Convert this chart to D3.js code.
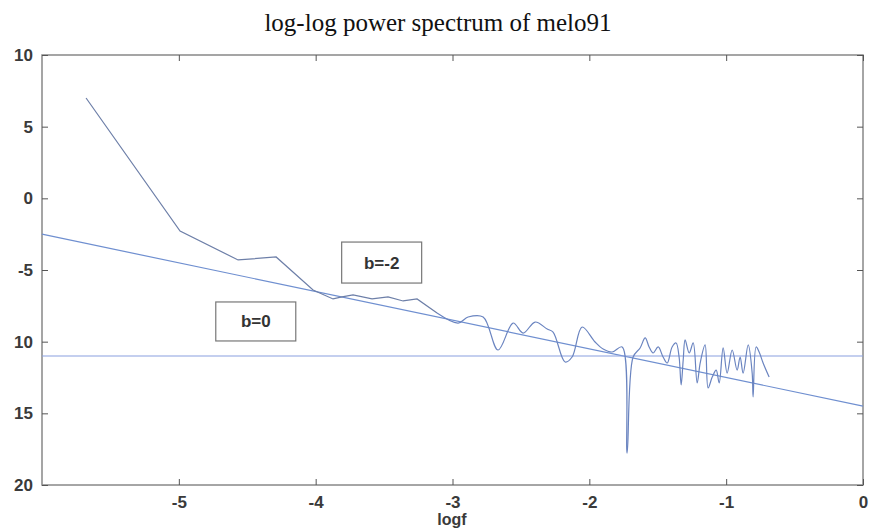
<!DOCTYPE html>
<html>
<head>
<meta charset="utf-8">
<script src="https://cdn.jsdelivr.net/npm/d3@7"></script>
<style>
  body { margin: 0; background: #fff; }
  .tick text { font-family: "Liberation Sans", Arial, sans-serif; font-size: 17px; font-weight: bold; }
</style>
</head>
<body>
<script>
(function() {

    // spectrum: logf and log power
    var logf = [-5.678, -4.991, -4.567, -4.289, -4.019, -3.873, -3.807, -3.727, -3.588, -3.471,
        -3.361, -3.259, -3.113, -2.959, -2.886, -2.776, -2.667, -2.557, -2.484, -2.396,
        -2.308, -2.265, -2.177, -2.126, -2.053, -1.958, -1.899, -1.833, -1.760, -1.724,
        -1.680, -1.629, -1.592, -1.563, -1.534, -1.497, -1.461, -1.431, -1.395, -1.366,
        -1.344, -1.329, -1.314, -1.300, -1.270, -1.241, -1.212, -1.190, -1.154, -1.132,
        -1.102, -1.073, -1.051, -1.022, -0.993, -0.956, -0.920, -0.898, -0.876, -0.839,
        -0.810, -0.803, -0.781, -0.759, -0.730, -0.686];
    var logp = [7.0, -2.28, -4.30, -4.09, -6.40, -7.02, -6.88, -6.74, -7.02, -6.88,
        -7.16, -7.02, -8.00, -8.70, -8.28, -8.28, -10.58, -8.70, -9.40, -8.63,
        -9.12, -9.33, -11.42, -11.07, -8.98, -10.02, -10.51, -10.72, -10.37, -17.77,
        -11.07, -10.44, -9.74, -10.37, -10.79, -10.37, -11.07, -11.49, -10.37, -10.09,
        -11.07, -13.02, -11.28, -9.88, -10.79, -10.09, -12.88, -11.49, -10.23, -13.23,
        -12.47, -11.98, -12.88, -10.44, -12.19, -10.58, -11.98, -11.07, -12.19, -10.23,
        -12.19, -13.86, -10.37, -10.72, -11.49, -12.47];

    // reference lines (end points)
    var slopeLine = [[-6, -2.5], [0, -14.5]];
    var flatLine = [[-6, -11], [0, -11]];

    var xTicks = [-5, -4, -3, -2, -1, 0];
    var yTicks = [10, 5, 0, -5, -10, -15, -20];
    var yTickLabels = ["10", "5", "0", "-5", "10", "15", "20"];

    // boxed labels: top-left corner in data units
    var labels = [
        {text: "b=-2", x: -3.81, y: -3.05, w: 80, h: 41},
        {text: "b=0", x: -4.73, y: -7.23, w: 80, h: 39}
    ];

    var width = 872, height = 528;
    var left = 42, right = 863, top = 55, bottom = 485;

    var svg = d3.select("body")
        .append("svg")
        .attr("width", width)
        .attr("height", height);

    var x = d3.scaleLinear().domain([-6, 0]).range([left, right]);
    var y = d3.scaleLinear().domain([-20, 10]).range([bottom, top]);

    svg.append("text")
        .attr("x", 438)
        .attr("y", 31)
        .attr("text-anchor", "middle")
        .style("font-family", "'Liberation Serif', 'Times New Roman', serif")
        .style("font-size", "25px")
        .style("fill", "#111")
        .text("log-log power spectrum of melo91");

    // frame
    svg.append("rect")
        .attr("x", left)
        .attr("y", top)
        .attr("width", right - left)
        .attr("height", bottom - top)
        .attr("fill", "none")
        .attr("stroke", "#888")
        .attr("stroke-width", 1.5);

    var xAxis = svg.append("g")
        .attr("transform", "translate(0," + bottom + ")")
        .call(d3.axisBottom(x).tickValues(xTicks).tickSizeInner(-6).tickSizeOuter(0).tickPadding(11)
            .tickFormat(function(d){ return String(d); }));
    var xTop = svg.append("g")
        .attr("transform", "translate(0," + top + ")")
        .call(d3.axisTop(x).tickValues(xTicks).tickSizeInner(-6).tickSizeOuter(0).tickFormat(""));
    var yAxis = svg.append("g")
        .attr("transform", "translate(" + left + ",0)")
        .call(d3.axisLeft(y).tickValues(yTicks).tickSizeInner(-6).tickSizeOuter(0).tickPadding(9)
            .tickFormat(function(d, i){ return yTickLabels[i]; }));
    var yRight = svg.append("g")
        .attr("transform", "translate(" + right + ",0)")
        .call(d3.axisRight(y).tickValues(yTicks).tickSizeInner(-6).tickSizeOuter(0).tickFormat(""));

    [xAxis, xTop, yAxis, yRight].forEach(function(g){
        g.select(".domain").remove();
        g.selectAll(".tick line").attr("stroke", "#555");
        g.selectAll(".tick text").attr("fill", "#3a3a3a");
    });

    svg.append("text")
        .attr("x", 452)
        .attr("y", 525)
        .attr("text-anchor", "middle")
        .style("font-family", "'Liberation Sans', Arial, sans-serif")
        .style("font-size", "16px")
        .style("font-weight", "bold")
        .style("fill", "#3a3a3a")
        .text("logf");

    var line = d3.line()
        .x(function(d){ return x(d[0]); })
        .y(function(d){ return y(d[1]); });

    svg.append("path")
        .datum(slopeLine)
        .attr("d", line)
        .attr("fill", "none")
        .attr("stroke", "#6f8fd0")
        .attr("stroke-width", 1.2);

    svg.append("path")
        .datum(flatLine)
        .attr("d", line)
        .attr("fill", "none")
        .attr("stroke", "#8aa0e0")
        .attr("stroke-width", 1.2);

    var spectrum = logf.map(function(f, i){ return [f, logp[i]]; });

    // low frequencies are few points joined straight, the rest look smooth
    svg.append("path")
        .datum(spectrum.slice(0, 13))
        .attr("d", line)
        .attr("fill", "none")
        .attr("stroke", "#6d7fa8")
        .attr("stroke-width", 1.2);

    var smooth = d3.line()
        .x(function(d){ return x(d[0]); })
        .y(function(d){ return y(d[1]); })
        .curve(d3.curveCatmullRom.alpha(0.5));

    svg.append("path")
        .datum(spectrum.slice(12))
        .attr("d", smooth)
        .attr("fill", "none")
        .attr("stroke", "#6a84c0")
        .attr("stroke-width", 1.2);

    // text boxes
    var boxes = svg.selectAll(".lbl")
        .data(labels)
        .enter()
        .append("g")
        .attr("class", "lbl");

    boxes.append("rect")
        .attr("x", function(d){ return x(d.x); })
        .attr("y", function(d){ return y(d.y); })
        .attr("width", function(d){ return d.w; })
        .attr("height", function(d){ return d.h; })
        .attr("fill", "#fff")
        .attr("stroke", "#777")
        .attr("stroke-width", 1.2);

    boxes.append("text")
        .attr("x", function(d){ return x(d.x) + d.w / 2; })
        .attr("y", function(d){ return y(d.y) + d.h / 2 + 6; })
        .attr("text-anchor", "middle")
        .style("font-family", "'Liberation Sans', Arial, sans-serif")
        .style("font-size", "17px")
        .style("font-weight", "bold")
        .style("fill", "#333")
        .text(function(d){ return d.text; });

})();
</script>
</body>
</html>
